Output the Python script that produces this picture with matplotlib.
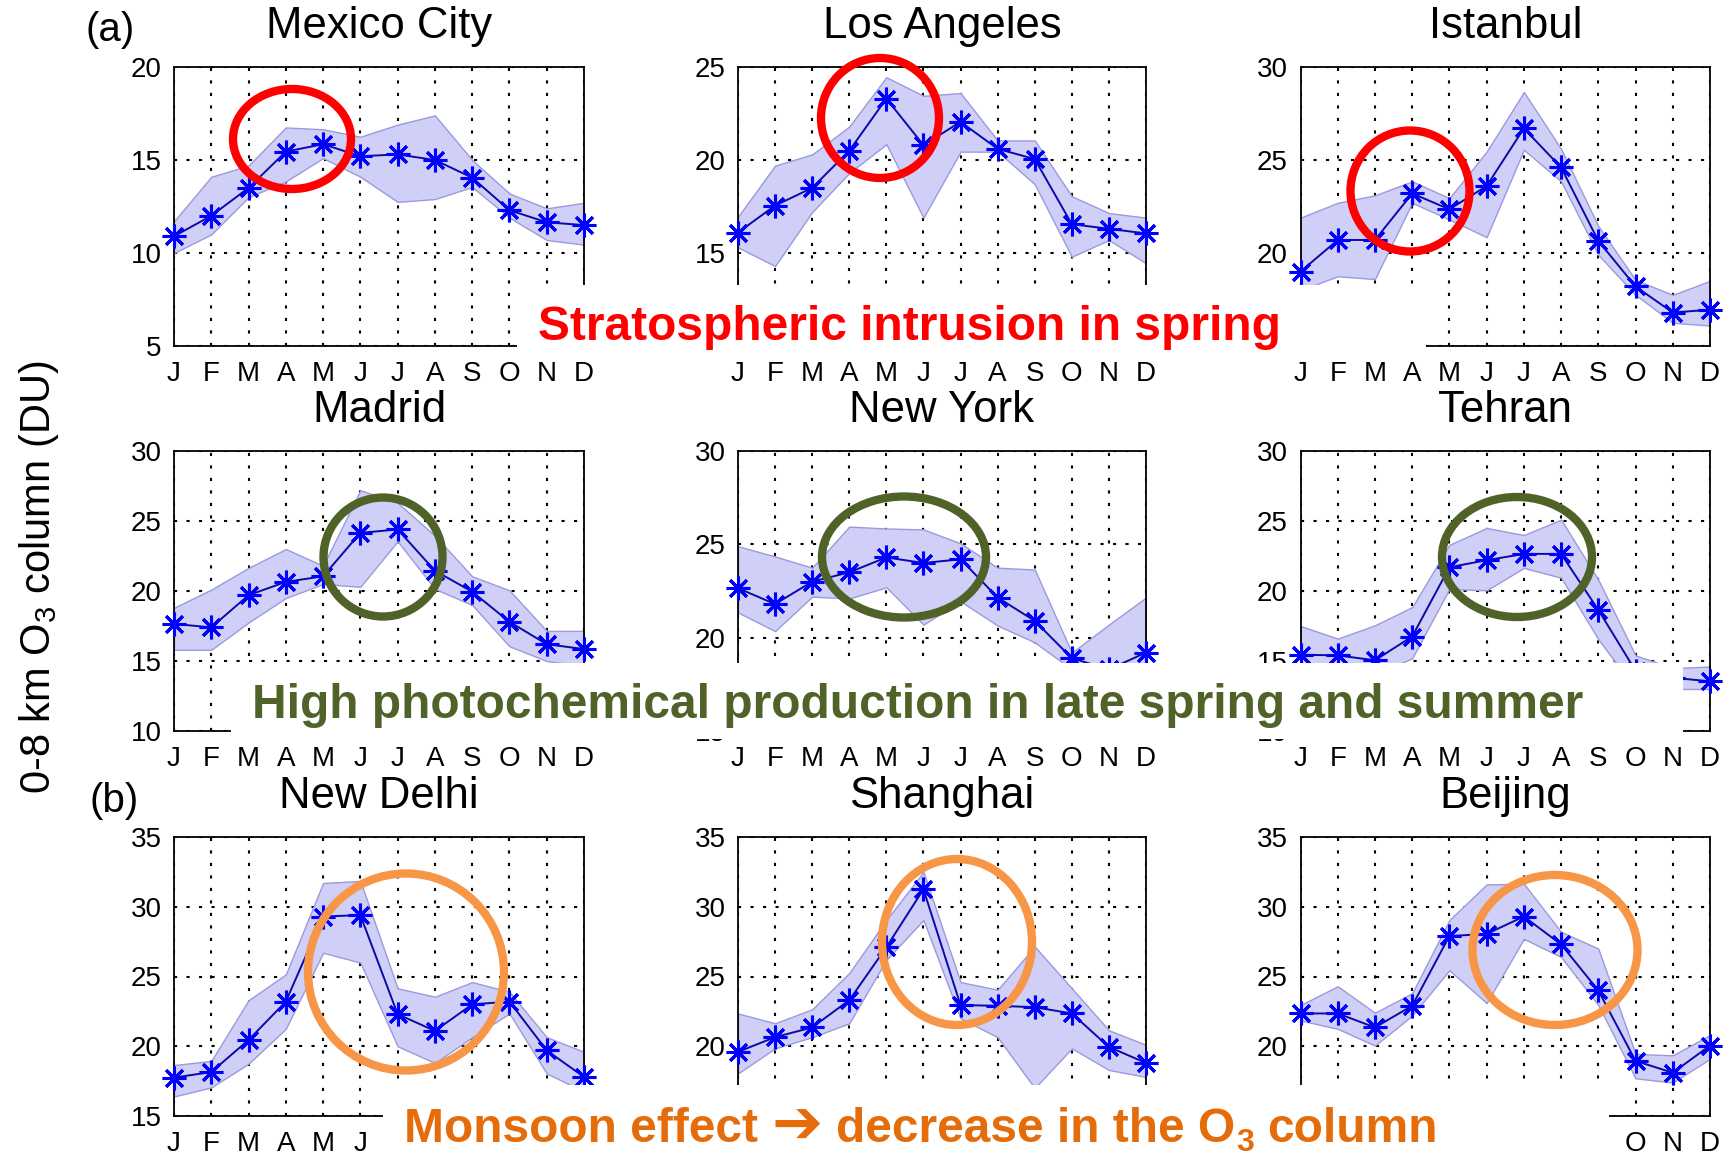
import matplotlib.pyplot as plt
import numpy as np
from matplotlib.patches import Ellipse, Rectangle

plt.rcParams['font.family'] = ['Liberation Sans', 'DejaVu Sans']
plt.rcParams['mathtext.fontset'] = 'custom'
plt.rcParams['mathtext.rm'] = 'Liberation Sans'
plt.rcParams['mathtext.bf'] = 'Liberation Sans:bold'
plt.rcParams['mathtext.default'] = 'regular'

months = ['J', 'F', 'M', 'A', 'M', 'J', 'J', 'A', 'S', 'O', 'N', 'D']
month_num = np.arange(1, 13)

# monthly mean and band (upper / lower) of the 0-8 km O3 column, DU
mexico_mean = [10.9, 12.0, 13.5, 15.45, 15.85, 15.2, 15.3, 15.0, 14.05, 12.3, 11.65, 11.5]
mexico_hi = [11.7, 14.1, 14.7, 16.75, 16.65, 16.25, 16.9, 17.4, 15.0, 13.2, 12.4, 12.7]
mexico_lo = [10.0, 11.0, 13.0, 13.85, 15.1, 14.1, 12.75, 12.9, 13.55, 11.9, 10.7, 10.45]

la_mean = [16.1, 17.55, 18.5, 20.5, 23.3, 20.8, 22.05, 20.6, 20.05, 16.55, 16.3, 16.05]
la_hi = [16.95, 19.7, 20.3, 21.8, 24.45, 23.45, 23.6, 21.05, 21.05, 18.05, 17.15, 16.9]
la_lo = [15.3, 14.3, 17.2, 19.3, 20.85, 16.9, 20.45, 20.45, 18.7, 14.8, 15.7, 14.45]

istanbul_mean = [19.0, 20.7, 20.7, 23.2, 22.35, 23.6, 26.7, 24.6, 20.65, 18.2, 16.8, 16.95]
istanbul_hi = [21.9, 22.7, 23.1, 23.85, 22.95, 25.45, 28.65, 25.6, 21.45, 18.55, 17.75, 18.5]
istanbul_lo = [18.0, 18.75, 18.6, 22.7, 21.8, 20.85, 25.55, 23.85, 19.9, 17.75, 16.25, 16.1]

madrid_mean = [17.65, 17.4, 19.7, 20.65, 21.05, 24.15, 24.4, 21.45, 19.95, 17.8, 16.2, 15.85]
madrid_hi = [18.8, 20.1, 21.65, 23.0, 21.8, 27.2, 26.3, 23.95, 21.05, 20.05, 17.15, 17.15]
madrid_lo = [15.8, 15.8, 17.75, 19.5, 20.5, 20.3, 23.55, 20.15, 19.0, 16.05, 15.0, 14.65]

newyork_mean = [22.65, 21.8, 23.0, 23.5, 24.3, 24.0, 24.2, 22.15, 20.9, 18.9, 18.3, 19.2]
newyork_hi = [24.9, 24.35, 23.75, 25.95, 25.85, 25.8, 25.05, 23.75, 23.65, 19.2, 20.7, 22.15]
newyork_lo = [21.35, 20.35, 22.2, 22.1, 22.7, 20.7, 21.95, 20.65, 19.75, 18.3, 17.8, 18.0]

tehran_mean = [15.45, 15.4, 15.05, 16.75, 21.7, 22.2, 22.65, 22.65, 18.65, 14.3, 13.8, 13.55]
tehran_hi = [17.5, 16.6, 17.55, 18.85, 23.3, 24.5, 24.0, 25.1, 20.8, 15.4, 14.5, 14.6]
tehran_lo = [14.5, 14.5, 14.0, 15.2, 20.15, 20.05, 21.65, 20.95, 16.55, 13.0, 13.0, 13.0]

delhi_mean = [17.75, 18.15, 20.45, 23.2, 29.3, 29.4, 22.3, 21.1, 23.0, 23.2, 19.7, 17.8]
delhi_hi = [18.65, 18.95, 23.3, 25.15, 31.7, 31.85, 24.15, 23.55, 24.6, 23.9, 20.65, 19.6]
delhi_lo = [16.4, 17.05, 18.75, 21.25, 26.7, 26.0, 20.0, 18.8, 20.65, 22.35, 18.05, 16.75]

shanghai_mean = [19.6, 20.65, 21.35, 23.3, 27.1, 31.25, 22.95, 22.9, 22.8, 22.35, 19.95, 18.8]
shanghai_hi = [22.35, 21.65, 22.65, 25.25, 29.05, 32.5, 24.6, 24.05, 27.15, 24.15, 21.15, 20.1]
shanghai_lo = [18.05, 19.85, 20.65, 21.65, 26.2, 29.05, 22.0, 20.65, 17.0, 19.85, 18.3, 17.8]

beijing_mean = [22.35, 22.35, 21.35, 22.9, 27.9, 28.05, 29.3, 27.3, 24.0, 18.95, 18.1, 20.05]
beijing_hi = [22.95, 24.3, 22.4, 23.8, 29.05, 31.6, 31.65, 28.2, 27.0, 19.45, 19.35, 20.8]
beijing_lo = [21.85, 21.25, 20.05, 22.2, 25.45, 23.1, 27.7, 26.4, 22.95, 17.7, 17.4, 19.1]

cities = ['Mexico City', 'Los Angeles', 'Istanbul',
          'Madrid', 'New York', 'Tehran',
          'New Delhi', 'Shanghai', 'Beijing']
means = [mexico_mean, la_mean, istanbul_mean, madrid_mean, newyork_mean,
         tehran_mean, delhi_mean, shanghai_mean, beijing_mean]
uppers = [mexico_hi, la_hi, istanbul_hi, madrid_hi, newyork_hi,
          tehran_hi, delhi_hi, shanghai_hi, beijing_hi]
lowers = [mexico_lo, la_lo, istanbul_lo, madrid_lo, newyork_lo,
          tehran_lo, delhi_lo, shanghai_lo, beijing_lo]
ylims = [(5, 20), (10, 25), (15, 30),
         (10, 30), (15, 30), (10, 30),
         (15, 35), (15, 35), (15, 35)]

W, H = 1730, 1161
fig = plt.figure(figsize=(W / 100, H / 100), dpi=100)

col_left = [174, 738, 1300.5]
col_width = [410, 408, 409.5]
row_top = [67, 451, 837]
row_height = [279, 280, 279]

for i, city in enumerate(cities):
    r, c = divmod(i, 3)
    ax = fig.add_axes([col_left[c] / W, 1 - (row_top[r] + row_height[r]) / H,
                       col_width[c] / W, row_height[r] / H])
    ax.fill_between(month_num, lowers[i], uppers[i], facecolor='#cfcff7',
                    edgecolor='#9a9adc', lw=1.0, zorder=2)
    ax.plot(month_num, means[i], color='#0a0aa8', lw=1.4, zorder=3)
    ax.plot(month_num, means[i], ls='none', marker=(8, 2, 0), ms=17, mew=2.2,
            color='#0000ff', zorder=4, clip_on=False)
    lo, hi = ylims[i]
    ax.set_xlim(1, 12)
    ax.set_ylim(lo, hi)
    ax.set_xticks(month_num)
    ax.set_xticklabels(months)
    ax.set_yticks(np.arange(lo, hi + 1, 5))
    ax.tick_params(length=0, labelsize=20)
    ax.tick_params(axis='x', pad=11)
    ax.tick_params(axis='y', pad=9)
    ax.grid(True, color='k', ls=(0, (1.5, 4.5)), lw=1.5)
    ax.set_axisbelow(True)
    for s in ax.spines.values():
        s.set_linewidth(1.3)
    ax.set_title(city, fontsize=31.5, pad=21)

# overlay in pixel coordinates for the highlight marks
ov = fig.add_axes([0, 0, 1, 1], zorder=10)
ov.set_xlim(0, W)
ov.set_ylim(H, 0)
ov.axis('off')
ov.patch.set_visible(False)

boxes = [(517, 285, 909, 75), (231, 663, 1452, 76), (383, 1085, 1226, 76)]
for x0, y0, bw, bh in boxes:
    ov.add_patch(Rectangle((x0, y0), bw, bh, facecolor='white', edgecolor='none'))

red, green, orange = '#ff0000', '#4f6228', '#f79646'
rings = [((292, 139), 126, 108, red), ((880, 118), 126, 128, red),
         ((1410, 191), 127, 129, red),
         ((383, 557), 127, 127, green), ((904, 557), 172, 129, green),
         ((1517, 557), 158, 128, green),
         ((406, 972), 204, 205, orange), ((957, 942), 158, 174, orange),
         ((1555, 950), 173, 158, orange)]
for (cx, cy), ew, eh, col in rings:
    ov.add_patch(Ellipse((cx, cy), ew - 8, eh - 8, fill=False, edgecolor=col, lw=6))

note_size = 34.5
ov.text(909, 340, 'Stratospheric intrusion in spring', color='#ff0000',
        fontsize=note_size, fontweight='bold', ha='center', va='baseline')
ov.text(918, 718, 'High photochemical production in late spring and summer',
        color='#4f6228', fontsize=note_size, fontweight='bold', ha='center', va='baseline')

# orange note in pieces: arrow glyph from DejaVu, subscript 3 lowered
space = 0.278 * note_size * 100 / 72
pieces = [('Monsoon effect', {}, 0, space),
          ('\u2794', {'family': 'DejaVu Sans', 'fontweight': 'bold', 'fontsize': 44}, 2, space),
          ('decrease in the O', {}, 0, 1),
          ('3', {'fontsize': 23}, 9, space),
          ('column', {}, 0, 0)]
fig.canvas.draw()
rend = fig.canvas.get_renderer()
parts = []
for s, kw, dy, gap in pieces:
    opts = dict(color='#e46c0a', fontsize=note_size, fontweight='bold')
    opts.update(kw)
    t = ov.text(0, 1142 + dy, s, ha='left', va='baseline', **opts)
    parts.append((t, t.get_window_extent(rend).width, gap))
total = sum(w + g for _, w, g in parts)
x = 921 - total / 2
for t, w, g in parts:
    t.set_x(x)
    x += w + g

ov.text(110, 30, '(a)', fontsize=29, ha='center', va='center')
ov.text(114, 801, '(b)', fontsize=29, ha='center', va='center')
ov.text(39, 577, '0-8 km O$_3$ column (DU)', fontsize=30, rotation=90,
        ha='center', va='center')

plt.savefig('out.png', dpi=100)
